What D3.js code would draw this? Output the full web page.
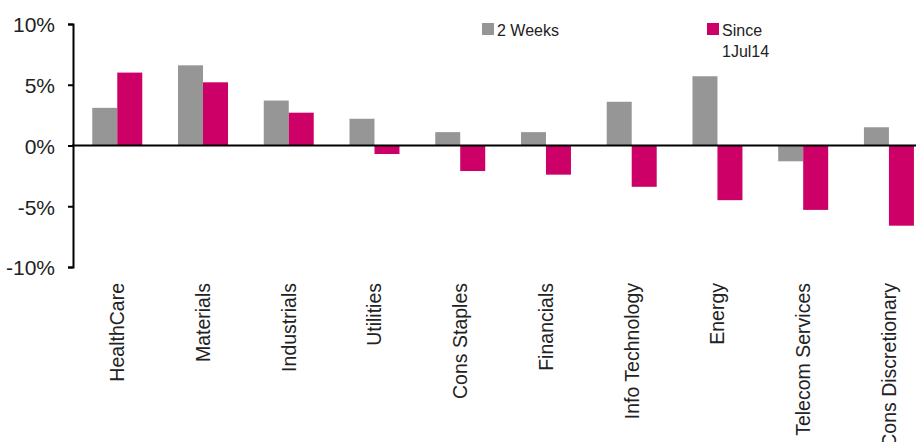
<!DOCTYPE html>
<html>
<head>
<meta charset="utf-8">
<script src="https://cdn.jsdelivr.net/npm/d3@7"></script>
<style>
  body { margin: 0; background: #fff; }
  text { font-family: "Liberation Sans", Arial, sans-serif; fill: #222; }
</style>
</head>
<body>
<div id="chart"></div>
<script>
// Sector returns chart
const svgWidth = 916
const svgHeight = 442

const sectors = ["HealthCare", "Materials", "Industrials", "Utilities", "Cons Staples",
  "Financials", "Info Technology", "Energy", "Telecom Services", "Cons Discretionary"]
const twoWeeks = [3.1, 6.6, 3.7, 2.2, 1.1, 1.1, 3.6, 5.7, -1.3, 1.5]
const sinceJul = [6.0, 5.2, 2.7, -0.7, -2.1, -2.4, -3.4, -4.5, -5.3, -6.6]
const seriesNames = ["2 Weeks", "Since 1Jul14"]
const seriesColors = ["#969696", "#cc0066"]
const yTicks = [-10, -5, 0, 5, 10]

let svg = d3.select("#chart")
  .append("svg")
  .attr("width", svgWidth)
  .attr("height", svgHeight)

let y = d3.scaleLinear().domain([-10, 10]).range([267, 24])

let x0 = d3.scaleBand()
  .domain(sectors)
  .range([74.4, 931.8])
  .paddingInner(0.417)
  .paddingOuter(0.2085)

let x1 = d3.scaleBand()
  .domain(seriesNames)
  .range([0, x0.bandwidth()])

let rows = sectors.map((s, i) => ({ sector: s, values: [twoWeeks[i], sinceJul[i]] }))

// bars
let groups = svg.selectAll("g.sector")
  .data(rows)
  .enter()
  .append("g")
  .attr("class", "sector")
  .attr("transform", d => `translate(${x0(d.sector)},0)`)

groups.selectAll("rect")
  .data(d => d.values.map((v, k) => ({ name: seriesNames[k], value: v, color: seriesColors[k] })))
  .enter()
  .append("rect")
  .attr("x", d => x1(d.name))
  .attr("width", x1.bandwidth())
  .attr("y", d => y(Math.max(0, d.value)))
  .attr("height", d => Math.abs(y(d.value) - y(0)))
  .attr("fill", d => d.color)

// y axis
let yAxis = svg.append("g")
  .attr("transform", "translate(73,0)")
  .call(d3.axisLeft(y).tickValues(yTicks).tickSize(5).tickPadding(13).tickFormat(d => d + "%"))

yAxis.select(".domain").attr("stroke", "#000").attr("stroke-width", 2)
yAxis.selectAll(".tick line").attr("stroke", "#000").attr("stroke-width", 2)
yAxis.selectAll(".tick text")
  .style("font-size", "21px")
  .style("font-family", "\"Liberation Sans\", Arial, sans-serif")
  .attr("fill", "#222")
  .attr("dy", "0.38em")

// zero line
svg.append("line")
  .attr("x1", 72)
  .attr("x2", svgWidth)
  .attr("y1", y(0))
  .attr("y2", y(0))
  .attr("stroke", "#000")
  .attr("stroke-width", 2)

// category labels
svg.selectAll("text.cat")
  .data(sectors)
  .enter()
  .append("text")
  .attr("class", "cat")
  .attr("transform", d => `translate(${x0(d) + x0.bandwidth() / 2},283) rotate(-90)`)
  .attr("text-anchor", "end")
  .attr("dy", "0.35em")
  .style("font-size", "19.5px")
  .text(d => d)

// legend
let legendX = [482, 707]
let legend = svg.selectAll("g.legend")
  .data(seriesNames)
  .enter()
  .append("g")
  .attr("class", "legend")
  .attr("transform", (d, i) => `translate(${legendX[i]},23)`)

legend.append("rect")
  .attr("width", 12)
  .attr("height", 12)
  .attr("fill", (d, i) => seriesColors[i])

legend.append("text")
  .attr("x", 15)
  .attr("y", 12.5)
  .style("font-size", "16px")
  .each(function(d) {
    let parts = d === "Since 1Jul14" ? ["Since", "1Jul14"] : [d]
    d3.select(this).selectAll("tspan")
      .data(parts)
      .enter()
      .append("tspan")
      .attr("x", 15)
      .attr("dy", (p, k) => k === 0 ? 0 : 21)
      .text(p => p)
  })
</script>
</body>
</html>
